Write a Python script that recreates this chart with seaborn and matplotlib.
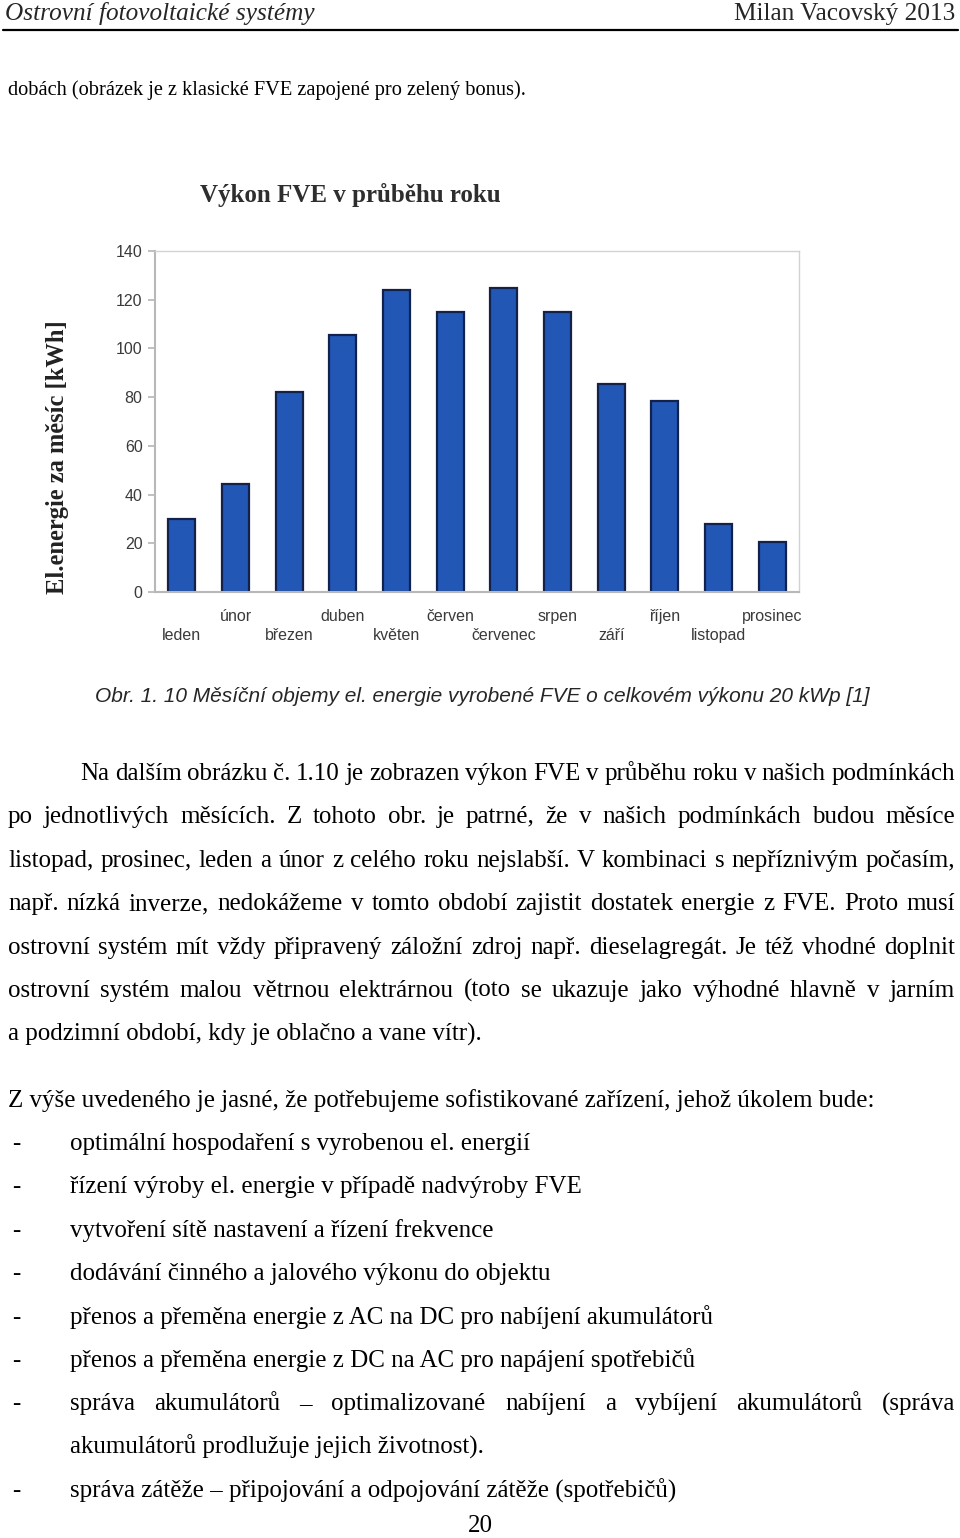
import matplotlib
matplotlib.use('Agg')
import matplotlib.pyplot as plt
import seaborn as sns
import pandas as pd
from matplotlib.lines import Line2D

# chart data
months = ['leden', 'únor', 'březen', 'duben', 'květen', 'červen',
          'červenec', 'srpen', 'září', 'říjen', 'listopad', 'prosinec']
energy_kwh = [30, 44.5, 82, 105.5, 124, 115, 125, 115, 85.5, 78.5, 28, 20.5]
y_ticks = [0, 20, 40, 60, 80, 100, 120, 140]

chart_title = 'Výkon FVE v průběhu roku'
y_label = 'El.energie za měsíc [kWh]'
caption = 'Obr. 1. 10 Měsíční objemy el. energie vyrobené FVE o celkovém výkonu 20 kWp [1]'

# page text
header_left = 'Ostrovní fotovoltaické systémy'
header_right = 'Milan Vacovský 2013'
intro_line = 'dobách (obrázek je z klasické FVE zapojené pro zelený bonus).'
paragraph_lines = [
    'Na dalším obrázku č. 1.10 je zobrazen výkon FVE v průběhu roku v našich podmínkách',
    'po jednotlivých měsících. Z tohoto obr. je patrné, že v našich podmínkách budou měsíce',
    'listopad, prosinec, leden a únor z celého roku nejslabší. V kombinaci s nepříznivým počasím,',
    'např. nízká inverze, nedokážeme v tomto období zajistit dostatek energie z FVE. Proto musí',
    'ostrovní systém mít vždy připravený záložní zdroj např. dieselagregát. Je též vhodné doplnit',
    'ostrovní systém malou větrnou elektrárnou (toto se ukazuje jako výhodné hlavně v jarním',
    'a podzimní období, kdy je oblačno a vane vítr).',
]
list_intro = 'Z výše uvedeného je jasné, že potřebujeme sofistikované zařízení, jehož úkolem bude:'
bullet_items = [
    ['optimální hospodaření s vyrobenou el. energií'],
    ['řízení výroby el. energie v případě nadvýroby FVE'],
    ['vytvoření sítě nastavení a řízení frekvence'],
    ['dodávání činného a jalového výkonu do objektu'],
    ['přenos a přeměna energie z AC na DC pro nabíjení akumulátorů'],
    ['přenos a přeměna energie z DC na AC pro napájení spotřebičů'],
    ['správa akumulátorů – optimalizované nabíjení a vybíjení akumulátorů (správa',
     'akumulátorů prodlužuje jejich životnost).'],
    ['správa zátěže – připojování a odpojování zátěže (spotřebičů)'],
]
page_number = '20'

sns.set_style('white')
plt.rcParams['font.family'] = ['Liberation Serif', 'DejaVu Serif']

W, H = 960, 1538
fig = plt.figure(figsize=(W / 100, H / 100), dpi=100)
renderer = fig.canvas.get_renderer()
SERIF = ['Liberation Serif', 'DejaVu Serif']
SANS = ['Liberation Sans', 'DejaVu Sans']


def put(x, y, s, **kw):
    return fig.text(x / W, 1 - y / H, s, **kw)


def width_of(s, **kw):
    t = fig.text(0, 0, s, **kw)
    w = t.get_window_extent(renderer).width
    t.remove()
    return w


def fit_size(s, target, **kw):
    return 10 * target / width_of(s, fontsize=10, **kw)


def justify(x0, x1, y, line, **kw):
    words = line.split(' ')
    widths = [width_of(w, **kw) for w in words]
    gap = (x1 - x0 - sum(widths)) / (len(words) - 1)
    x = x0
    for w, wd in zip(words, widths):
        put(x, y, w, va='baseline', **kw)
        x += wd + gap


# header
head_size = fit_size(header_right, 222, family=SERIF)
put(5, 20, header_left, fontsize=head_size, family=SERIF, style='italic', va='baseline')
put(955, 20, header_right, fontsize=head_size, family=SERIF, ha='right', va='baseline')
fig.add_artist(Line2D([3 / W, 958 / W], [1 - 30 / H, 1 - 30 / H], color='black', lw=1.6))

body = dict(fontsize=fit_size(list_intro, 865, family=SERIF), family=SERIF, color='black')
intro_size = fit_size(intro_line, 520, family=SERIF)
put(8, 95, intro_line, va='baseline', fontsize=intro_size, family=SERIF, color='black')

# chart
df = pd.DataFrame({'mesic': months, 'kwh': energy_kwh})
ax = fig.add_axes([155 / W, 1 - 592 / H, 644 / W, 341 / H])
sns.barplot(data=df, x='mesic', y='kwh', order=months, color='#2257b6',
            edgecolor='#13224a', linewidth=1.6, width=0.5, saturation=1, ax=ax)
ax.set_xlim(-0.5, 11.5)
ax.set_ylim(0, 140)
ax.set_yticks(y_ticks)
ax.set_yticklabels([str(v) for v in y_ticks], family=SANS, fontsize=11.5, color='#3a3a3a')
ax.set_xticks(range(len(months)))
ax.set_xticklabels([('\n' + m) if i % 2 == 0 else m for i, m in enumerate(months)],
                   family=SANS, fontsize=11.5, color='#3a3a3a', linespacing=1.35)
ax.set_xticks([i - 0.5 for i in range(len(months) + 1)], minor=True)
ax.tick_params(axis='x', which='major', length=0, pad=12)
ax.tick_params(axis='x', which='minor', length=6, width=1.2, color='#b5b5b5', direction='out')
ax.tick_params(axis='y', length=5, width=1.2, color='#b5b5b5', pad=4, left=True)
ax.set_xlabel('')
ax.set_ylabel('')
for side in ['left', 'bottom']:
    ax.spines[side].set_color('#b8b8b8')
    ax.spines[side].set_linewidth(1.5)
for side in ['top', 'right']:
    ax.spines[side].set_color('#d2d2d2')
    ax.spines[side].set_linewidth(1.0)

title_size = fit_size(chart_title, 302, family=SERIF, weight='bold')
put(200, 195, chart_title, fontsize=title_size, family=SERIF, weight='bold',
    color='#2e2e2e', va='center')
ylab_size = fit_size(y_label, 275, family=SERIF, weight='bold')
put(58, 457, y_label, fontsize=ylab_size, family=SERIF, weight='bold',
    color='#222222', rotation=90, ha='center', va='center')

cap_size = fit_size(caption, 775, family=SANS, style='italic')
put(482, 697, caption, fontsize=cap_size, family=SANS, style='italic', ha='center', va='center')

# paragraph
line_h = 43.4
y = 780
for i, line in enumerate(paragraph_lines):
    x0 = 80 if i == 0 else 8
    if i < len(paragraph_lines) - 1:
        justify(x0, 955, y, line, **body)
    else:
        put(x0, y, line, va='baseline', **body)
    y += line_h

put(8, 1107, list_intro, va='baseline', **body)
y = 1150
for item in bullet_items:
    put(12, y, '-', va='baseline', **body)
    for j, line in enumerate(item):
        if j < len(item) - 1:
            justify(70, 955, y, line, **body)
        else:
            put(70, y, line, va='baseline', **body)
        y += line_h

put(480, 1532, page_number, ha='center', va='baseline', **body)

fig.savefig('out.png', dpi=100)
